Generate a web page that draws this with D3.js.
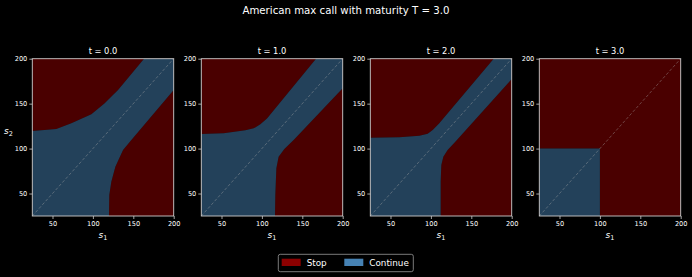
<!DOCTYPE html>
<html>
<head>
<meta charset="utf-8">
<script src="https://cdn.jsdelivr.net/npm/d3@7"></script>
<style>
  body { margin: 0; background: #000; }
  svg { display: block; }
</style>
</head>
<body>
<svg id="vis" width="692" height="277"></svg>
<script>
// exercise boundaries, [s1, s2]
var times = ["0.0", "1.0", "2.0", "3.0"];
var upper0 = [[25,119.5],[54.7,121.8],[73.3,128.1],[98.1,138.1],[114.6,150.3],[131.1,165.1],[163.3,200]];
var lower0 = [[119.9,25],[120.3,48.3],[122.8,63.2],[127.8,79.9],[137.3,98.4],[147.6,109.5],[200,165.1]];
var upper1 = [[25,116.2],[52.7,117],[79.5,120.3],[89.8,122.5],[98.1,127],[106.3,133.6],[167,200]];
var lower1 = [[116.2,25],[116.6,48.3],[117.9,78],[120.7,91],[127.8,99.5],[139.3,109.5],[200,167]];
var upper2 = [[25,112.1],[60.9,112.5],[85.7,114.3],[96,116.6],[102.2,120.7],[110.4,128.1],[177.7,200]];
var lower2 = [[112.1,25],[112.1,63.2],[112.9,81.7],[115.4,91],[120.7,98.4],[131.1,108.4],[200,177.4]];
var upper3 = [[25,100],[100,100]];
var lower3 = [[100,25],[100,100]];
var uppers = [upper0, upper1, upper2, upper3];
var lowers = [lower0, lower1, lower2, lower3];
var xTicks = [50, 100, 150, 200];
var yTicks = [50, 100, 150, 200];

var stopColor = "#8b0000";
var contColor = "#4682b4";

var svg = d3.select("#vis");
var panelLeft = [32.3, 201.3, 370.3, 539.3];
var plotTop = 58.7, w = 141.4, h = 157.3;

var x = d3.scaleLinear().domain([25, 200]).range([0, w]);
var y = d3.scaleLinear().domain([25, 200]).range([h, 0]);

function addText(g, px, py, txt, size, anchor){
    return g.append("text")
        .attr("x", px).attr("y", py)
        .attr("text-anchor", anchor || "middle")
        .attr("fill", "#fff")
        .style("font-family", "DejaVu Sans")
        .style("font-size", size + "px")
        .text(txt);
}

addText(svg, 346, 14, "American max call with maturity T = 3.0", 10.2);

times.forEach(function(t, i){
    var g = svg.append("g").attr("transform", "translate(" + panelLeft[i] + "," + plotTop + ")");

    // stop everywhere, then the continuation region on top
    g.append("rect").attr("width", w).attr("height", h)
        .attr("fill", stopColor).attr("fill-opacity", 0.53);

    var up = uppers[i], lo = lowers[i];
    var poly = [[25, 25]].concat(up);
    if (up[up.length - 1][1] === 200) poly.push([200, 200]);
    poly = poly.concat(lo.slice().reverse());

    g.append("path")
        .datum(poly)
        .attr("fill", "#000")
        .attr("d", d3.line().x(function(d){ return x(d[0]); }).y(function(d){ return y(d[1]); }));
    g.append("path")
        .datum(poly)
        .attr("fill", contColor).attr("fill-opacity", 0.5)
        .attr("d", d3.line().x(function(d){ return x(d[0]); }).y(function(d){ return y(d[1]); }));

    // diagonal
    g.append("line")
        .attr("x1", x(25)).attr("y1", y(25)).attr("x2", x(200)).attr("y2", y(200))
        .attr("stroke", "#aaa").attr("stroke-opacity", 0.5)
        .attr("stroke-width", 0.8).attr("stroke-dasharray", "3,2");

    var xa = g.append("g").attr("transform", "translate(0," + h + ")")
        .call(d3.axisBottom(x).tickValues(xTicks).tickSize(3).tickPadding(2));
    var ya = g.append("g")
        .call(d3.axisLeft(y).tickValues(yTicks).tickSize(3).tickPadding(2));
    [xa, ya].forEach(function(a){
        a.select(".domain").remove();
        a.selectAll("line").attr("stroke", "#ccc").attr("stroke-width", 0.8);
        a.selectAll("text").attr("fill", "#fff")
            .style("font-family", "DejaVu Sans").style("font-size", "6.6px");
    });

    g.append("rect").attr("width", w).attr("height", h)
        .attr("fill", "none").attr("stroke", "#ccc").attr("stroke-width", 0.9);

    addText(g, w / 2, -4.5, "t = " + t, 8.3);
    var s1 = addText(g, w / 2, h + 22, "s", 9);
    s1.style("font-style", "italic");
    s1.append("tspan").attr("font-size", "6.5px").attr("dy", 2).style("font-style", "normal").text("1");
    if (i === 0) {
        var s2 = addText(svg, 8.5, 134, "s", 9);
        s2.style("font-style", "italic");
        s2.append("tspan").attr("font-size", "6.5px").attr("dy", 2).style("font-style", "normal").text("2");
    }
});

// legend
var leg = svg.append("g").attr("transform", "translate(278.3,254.3)");
leg.append("rect").attr("width", 135).attr("height", 17.4).attr("rx", 2)
    .attr("fill", "#000").attr("stroke", "#999").attr("stroke-width", 0.8);
var legItems = [["Stop", stopColor, 3.4], ["Continue", contColor, 66]];
legItems.forEach(function(it){
    leg.append("rect").attr("x", it[2]).attr("y", 4.4).attr("width", 19).attr("height", 7.3)
        .attr("fill", it[1]);
    addText(leg, it[2] + 25, 12, it[0], 8.8, "start");
});
</script>
</body>
</html>
